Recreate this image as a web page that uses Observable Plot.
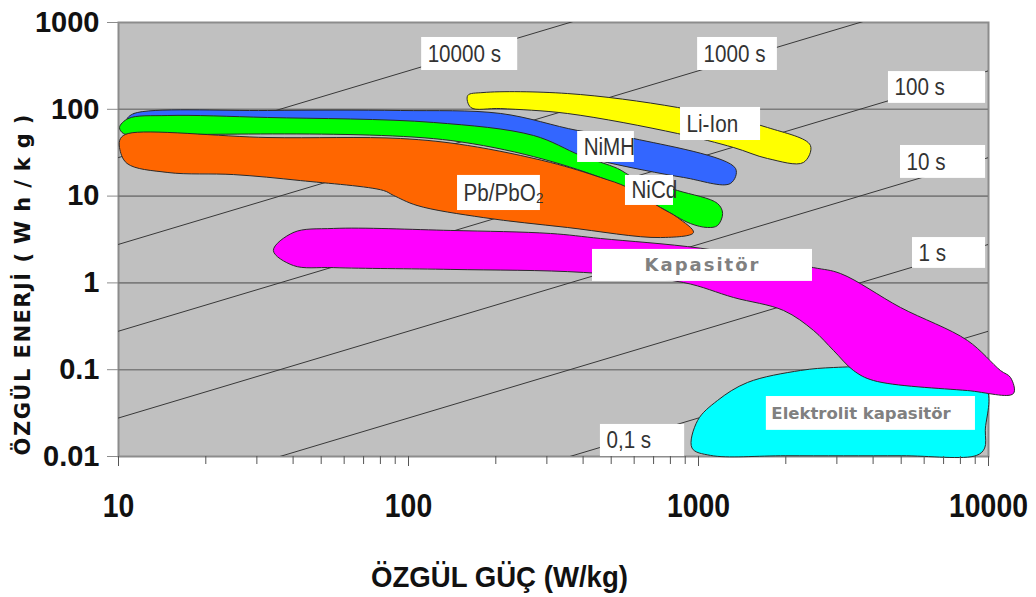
<!DOCTYPE html>
<html>
<head>
<meta charset="utf-8">
<script src="https://cdn.jsdelivr.net/npm/d3@7"></script>
<script src="https://cdn.jsdelivr.net/npm/@observablehq/plot@0.6"></script>
<style>
  html, body { margin: 0; padding: 0; background: #ffffff; }
  #chart { width: 1036px; height: 597px; }
</style>
</head>
<body>
<div id="chart"></div>
<script>
// ---- axis ticks ----
const powerTicks = [10, 100, 1000, 10000];
const minorPowerTicks = [20, 30, 40, 50, 60, 70, 80, 90, 200, 300, 400, 500, 600, 700, 800, 900,
  2000, 3000, 4000, 5000, 6000, 7000, 8000, 9000];
const energyTicks = [0.01, 0.1, 1, 10, 100, 1000];
const gridEnergy = [0.1, 1, 10, 100];

// ---- constant discharge-time lines (s) ----
const dischargeTimes = [0.1, 1, 10, 100, 1000, 10000];
const powerEnds = [10, 10000];

// ---- region outlines: [specific power W/kg, specific energy Wh/kg] ----
const liIon = [[160,144],[181,156],[353,152],[847,105],[1730,61.7],[2432,38.3],[2301,24.4],
  [1730,27.1],[1321,36.3],[847,52.6],[353,89.5],[208,102],[164,105]];
const niMH = [[10.7,76.2],[11.3,89.5],[32.6,96.9],[93.8,96.9],[208,89.5],[383,57.0],[597,46.1],
  [1342,20.8],[1289,14.0],[888,16.4],[485,24.4],[392,29.4],[140,57.0],[32.6,70.5],[11.3,70.5]];
const niCd = [[10.08,61.7],[10.8,78.3],[14.8,84.8],[32.6,80.5],[122,70.5],[270,49.9],[392,29.4],
  [526,20.8],[597,16.4],[847,11.6],[1163,8.22],[1211,6.31],[1163,4.58],[1074,4.35],[938,4.83],
  [739,7.39],[459,16.4],[140,43.7],[11.3,51.3],[10.4,52.6]];
const pbAcid = [[10.8,52.6],[32.6,47.3],[93.8,46.1],[160,38.3],[309,24.4],[459,16.4],[569,12.6],
  [739,7.39],[847,5.66],[961,3.81],[739,3.33],[353,4.35],[181,5.66],[107,7.80],[88.7,10.2],
  [82,11.6],[42.4,15.1],[24.9,17.7],[14.8,18.7],[10.7,23.8],[10.08,36.3],[10.16,46.1]];
const capacitor = [[34.2,2.36],[40.1,3.81],[55.1,4.24],[140,4.02],[309,3.71],[459,3.25],[1016,2.51],
  [2493,1.50],[3092,1.28],[4972,0.521],[8464,0.217],[10990,0.098],[11910,0.0813],[12190,0.0532],
  [8464,0.0575],[4010,0.0751],[3422,0.098],[2924,0.166],[2493,0.283],[1965,0.481],[1321,0.679],
  [888,1.01],[401,1.32],[140,1.43],[55.1,1.50],[40.1,1.585]];
const electrolytic = [[2924,0.106],[4010,0.106],[9700,0.0658],[9750,0.0200],[9700,0.0125],
  [9100,0.0103],[5000,0.0102],[2000,0.0102],[1099,0.0103],[950,0.0125],[993,0.0260],
  [1163,0.0442],[1476,0.0713],[2249,0.098]];

// ---- label boxes (data units) ----
const timeLabels = [
  {label: "10000 s", x1: 111, x2: 238, y1: 280, y2: 672},
  {label: "1000 s", x1: 993, x2: 1871, y1: 280, y2: 672},
  {label: "100 s", x1: 4519, x2: 9772, y1: 117, y2: 272},
  {label: "10 s", x1: 4972, x2: 9772, y1: 16.0, y2: 38.3},
  {label: "1 s", x1: 5470, x2: 9772, y1: 1.47, y2: 3.33},
  {label: "0,1 s", x1: 459, x2: 896, y1: 0.01, y2: 0.0234}
];
const techLabels = [
  {label: "Li-Ion", x1: 867, x2: 1637, y1: 43.7, y2: 105},
  {label: "NiMH", x1: 383, x2: 601, y1: 24.4, y2: 55.5},
  {label: "NiCd", x1: 560, x2: 820, y1: 7.80, y2: 17.3},
  {label: "Pb/PbO₂", x1: 147.6, x2: 285, y1: 6.82, y2: 17.3}
];
const capacitorLabel = [{label: "Kapasitör", x1: 431, x2: 2472, y1: 1.04, y2: 2.43}];
const electrolyticLabel = [{label: "Elektrolit kapasitör", x1: 1714, x2: 9016, y1: 0.0200, y2: 0.0491}];

const yTitleMain = "ÖZGÜL ENERJİ ";
const yTitleUnit = "(Wh/kg)";
const xTitle = "ÖZGÜL GÜÇ (W/kg)";

const regions = [
  {name: "NiMH", color: "#3366ff", points: niMH},
  {name: "NiCd", color: "#00ff00", points: niCd},
  {name: "Pb/PbO2", color: "#ff6600", points: pbAcid},
  {name: "Li-Ion", color: "#ffff00", points: liIon},
  {name: "Elektrolit kapasitör", color: "#00ffff", points: electrolytic},
  {name: "Kapasitör", color: "#ff00ff", points: capacitor}
];

const timeLines = dischargeTimes.flatMap(t => powerEnds.map(P => ({t, P, E: P * t / 3600})));
const mid = d => Math.sqrt(d.y1 * d.y2);

const sans = "'Liberation Sans', Arial, sans-serif";
const wide = "'DejaVu Sans', Verdana, sans-serif";

const chart = Plot.plot({
  width: 1036,
  height: 597,
  marginLeft: 118,
  marginRight: 48,
  marginTop: 22,
  marginBottom: 141,
  style: {background: "#ffffff", fontFamily: sans, color: "#111"},
  x: {type: "log", domain: [10, 10000]},
  y: {type: "log", domain: [0.01, 1000]},
  marks: [
    Plot.frame({fill: "#c0c0c0", stroke: "#8c8c8c", strokeWidth: 2}),
    Plot.ruleY(gridEnergy, {stroke: "#7c7c7c", strokeWidth: 1.6}),
    Plot.line(timeLines, {x: "P", y: "E", z: "t", stroke: "#383838", strokeWidth: 1, clip: true}),
    ...regions.map(r => Plot.line(r.points, {
      x: d => d[0], y: d => d[1],
      curve: "catmull-rom-closed",
      fill: r.color, stroke: "#2a2a2a", strokeWidth: 1
    })),
    Plot.rect([...timeLabels, ...techLabels, ...capacitorLabel, ...electrolyticLabel],
      {x1: "x1", x2: "x2", y1: "y1", y2: "y2", fill: "#ffffff"}),
    Plot.text([...timeLabels, ...techLabels], {
      x: "x1", y: mid, text: "label", textAnchor: "start", dx: 6,
      fontSize: 24, fill: "#333333"
    }),
    Plot.text(capacitorLabel, {
      x: d => Math.sqrt(d.x1 * d.x2), y: mid, text: "label", textAnchor: "middle",
      fontSize: 18, fontWeight: "bold", fontFamily: wide, fill: "#808080"
    }),
    Plot.text(electrolyticLabel, {
      x: "x1", y: mid, text: "label", textAnchor: "start", dx: 5,
      fontSize: 16.5, fontWeight: "bold", fontFamily: wide, fill: "#808080"
    }),
    Plot.axisY({ticks: energyTicks, tickSize: 11, tickPadding: 8, tickFormat: d => String(d),
      fontSize: 29, fontWeight: "bold", stroke: "#8c8c8c", label: null}),
    Plot.axisX({ticks: minorPowerTicks, tickSize: 8, tickFormat: () => "", stroke: "#555", label: null}),
    Plot.axisX({ticks: powerTicks, tickSize: 10, tickPadding: 27, tickFormat: d => String(d),
      fontSize: 33, fontWeight: "bold", stroke: "#555", label: null}),
    Plot.text([yTitleMain + yTitleUnit], {frameAnchor: "left", textAnchor: "middle", lineAnchor: "middle",
      rotate: -90, dx: -95, dy: 41,
      fontSize: 21, fontWeight: "bold", fontFamily: wide, fill: "#111"}),
    Plot.text([xTitle], {frameAnchor: "bottom", textAnchor: "middle", lineAnchor: "middle",
      dx: -54, dy: 121, fontSize: 30, fontWeight: "bold", fill: "#111"})
  ]
});

document.getElementById("chart").appendChild(chart);

// narrow the horizontally-condensed texts of the original (scaled about their anchor)
function squeeze(el, s) {
  let tr = el.getAttribute("transform") || "";
  const xa = el.getAttribute("x");
  if (xa !== null && /^-?[\d.]+$/.test(xa.trim())) {
    tr += ` translate(${+xa},0)`;
    el.setAttribute("x", "0");
  }
  el.setAttribute("transform", `${tr} scale(${s},1)`);
}
const innerNarrow = new Set([...timeLabels, ...techLabels].map(d => d.label));
const xTickText = new Set(powerTicks.map(String));
d3.select(chart).selectAll("text").each(function() {
  const t = this.textContent;
  const top = this.getBoundingClientRect().top;
  if (t === yTitleMain + yTitleUnit) {
    const el = d3.select(this);
    el.text(null);
    el.append("tspan").attr("letter-spacing", 1.5).text(yTitleMain);
    el.append("tspan").attr("letter-spacing", 9).text(yTitleUnit);
  }
  else if (t === "Kapasitör") this.setAttribute("letter-spacing", "2");
  else if (innerNarrow.has(t)) squeeze(this, 0.86);
  else if (xTickText.has(t) && top > 470) squeeze(this, 0.86);
  else if (t === xTitle) squeeze(this, 0.92);
});
</script>
</body>
</html>
